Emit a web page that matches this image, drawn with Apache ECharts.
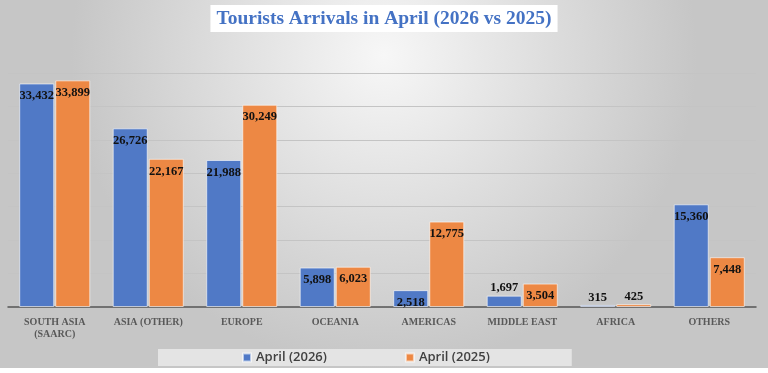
<!DOCTYPE html>
<html>
<head>
<meta charset="utf-8">
<script src="https://cdn.jsdelivr.net/npm/echarts@6/dist/echarts.min.js"></script>
<style>
  html, body { margin: 0; padding: 0; background: #fff; }
  #chart { width: 768px; height: 368px; }
</style>
</head>
<body>
<div id="chart"></div>
<script>
var categories = ['SOUTH ASIA\n(SAARC)', 'ASIA (OTHER)', 'EUROPE', 'OCEANIA', 'AMERICAS', 'MIDDLE EAST', 'AFRICA', 'OTHERS'];
var april2026 = [33432, 26726, 21988, 5898, 2518, 1697, 315, 15360];
var april2025 = [33899, 22167, 30249, 6023, 12775, 3504, 425, 7448];
var seriesNames = ['April (2026)', 'April (2025)'];

// small bars get their label above the bar
function toItems(arr) {
    return arr.map(function (v) {
        if (v < 2000) return { value: v, label: { position: 'top', distance: 1 } };
        return v;
    });
}

var labelStyle = {
    show: true,
    position: 'insideTop',
    distance: 6,
    fontFamily: 'Liberation Serif',
    fontWeight: 'bold',
    fontSize: 12.5,
    color: '#111',
    formatter: function (p) { return p.value.toLocaleString('en-US'); }
};

var chart = echarts.init(document.getElementById('chart'));
var option = {
    backgroundColor: {
        type: 'radial', x: 0.5, y: 0.15, r: 0.85,
        colorStops: [
            { offset: 0, color: '#f7f7f7' },
            { offset: 1, color: '#c6c6c6' }
        ]
    },
    title: {
        text: 'Tourists Arrivals in April (2026 vs 2025)',
        left: 'center',
        top: 5,
        padding: [4, 6, 3, 6],
        backgroundColor: '#ffffff',
        textStyle: {
            fontFamily: 'Liberation Serif',
            fontWeight: 'bold',
            fontSize: 19.5,
            color: '#4472c4'
        }
    },
    legend: {
        data: seriesNames,
        bottom: 2,
        left: 158,
        itemGap: 78,
        itemWidth: 8,
        itemHeight: 8,
        icon: 'rect',
        padding: [2, 82, 2, 84],
        backgroundColor: '#e4e4e4',
        textStyle: {
            fontFamily: 'Open Sans',
            fontSize: 13,
            fontWeight: 600,
            color: '#404040'
        }
    },
    grid: { left: 8, right: 12, top: 73, bottom: 61 },
    xAxis: {
        type: 'category',
        data: categories,
        axisTick: { show: false },
        axisLine: { lineStyle: { color: '#555', width: 1.5 } },
        axisLabel: {
            interval: 0,
            margin: 9,
            fontFamily: 'Liberation Serif',
            fontWeight: 'bold',
            fontSize: 10,
            color: '#595959',
            lineHeight: 12
        }
    },
    yAxis: {
        type: 'value',
        min: 0,
        max: 35000,
        interval: 5000,
        axisLabel: { show: false },
        axisLine: { show: false },
        axisTick: { show: false },
        splitLine: { lineStyle: { color: '#c4c4c4' } }
    },
    series: [
        {
            name: seriesNames[0],
            type: 'bar',
            data: toItems(april2026),
            barWidth: 35,
            barGap: '3%',
            itemStyle: { color: '#5079c6', borderColor: 'rgba(255,255,255,0.6)', borderWidth: 1 },
            label: labelStyle
        },
        {
            name: seriesNames[1],
            type: 'bar',
            data: toItems(april2025),
            barWidth: 35,
            itemStyle: { color: '#ed8844', borderColor: 'rgba(255,255,255,0.6)', borderWidth: 1 },
            label: labelStyle
        }
    ]
};
chart.setOption(option);
</script>
</body>
</html>
